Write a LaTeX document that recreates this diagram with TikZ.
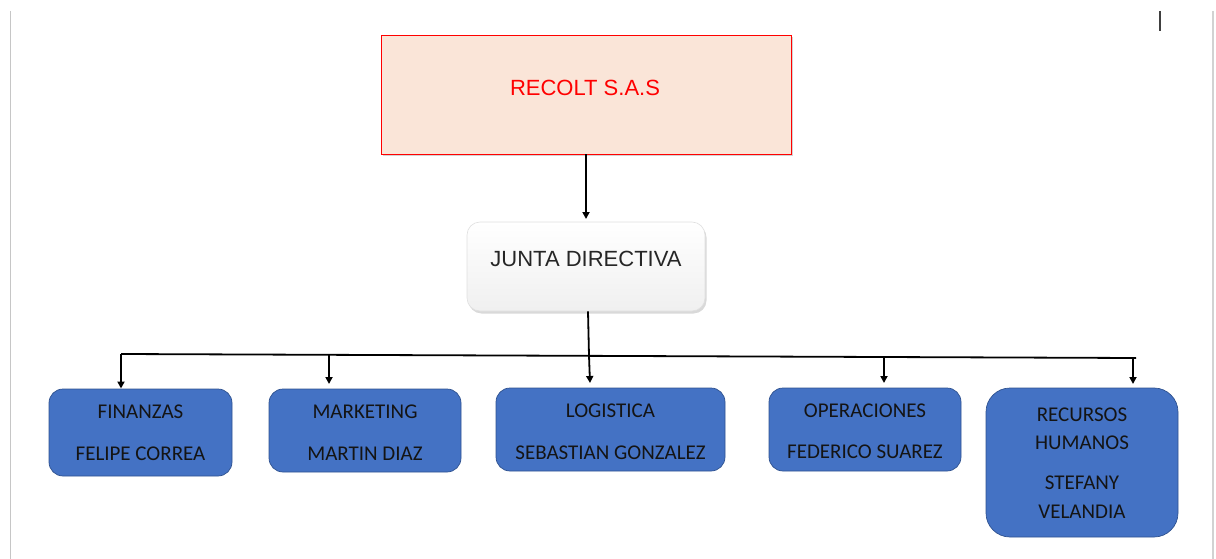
\documentclass[tikz,border=0pt]{standalone}
\usepackage{fontspec}
\setmainfont{Liberation Sans}
\newfontfamily\calib{Carlito}
\usetikzlibrary{arrows.meta,shadows}
\begin{document}
\begin{tikzpicture}[x=1pt,y=-1pt,
  conn/.style={line width=1.8pt,black},
  arr/.style={conn,-{Triangle[length=7pt,width=7pt]}},
  dept/.style={draw={rgb,255:red,47;green,82;blue,143},line width=0.7pt,fill={rgb,255:red,68;green,114;blue,196},rounded corners=14pt,inner sep=0pt},
  dtxt/.style={font=\calib\fontsize{21}{24}\selectfont,text=black!92,inner sep=0pt},
]
\useasboundingbox (0,0) rectangle (1216,559);
% page edges
\draw[gray!45,line width=1pt] (10.5,11) -- (10.5,559);
\draw[gray!35,line width=1.5pt] (1213,11) -- (1213,559);
\draw[black!75,line width=1.3pt] (1160,11) -- (1160,31);

% top box
\node[draw=red,line width=0.9pt,fill={rgb,255:red,250;green,229;blue,216},minimum width=410pt,minimum height=119pt,inner sep=0pt,
  drop shadow={shadow xshift=2pt,shadow yshift=-2pt,opacity=0.35}] (top) at (586,94.5) {};
\node[text=red,font=\fontsize{22}{26}\selectfont,inner sep=0pt] (topt) at (585,88) {RECOLT S.A.S};

% junta
\node[draw=gray!25,line width=0.6pt,rounded corners=13pt,top color=white,bottom color=gray!12,minimum width=238pt,minimum height=89pt,inner sep=0pt,
  drop shadow={shadow xshift=1.5pt,shadow yshift=-2.5pt,opacity=0.3}] (junta) at (586,266.5) {};
\node[text=black!85,font=\fontsize{22}{26}\selectfont,inner sep=0pt] (juntat) at (586,259) {JUNTA DIRECTIVA};

% departments
\node[dept,minimum width=183pt,minimum height=87pt] (fin) at (140.5,432.5) {};
\node[dept,minimum width=192pt,minimum height=83pt] (mkt) at (365,430.5) {};
\node[dept,minimum width=229pt,minimum height=83pt] (log) at (610.5,429.5) {};
\node[dept,minimum width=192pt,minimum height=83pt] (ope) at (865,429.5) {};
\node[dept,rounded corners=24pt,minimum width=192pt,minimum height=149pt] (rrhh) at (1082,462.5) {};

\node[dtxt] (fin1) at (140.5,412) {FINANZAS};
\node[dtxt] (fin2) at (140.5,454) {FELIPE CORREA};
\node[dtxt] (mkt1) at (365,412) {MARKETING};
\node[dtxt] (mkt2) at (365,454) {MARTIN DIAZ};
\node[dtxt] (log1) at (610.5,411) {LOGISTICA};
\node[dtxt] (log2) at (610.5,453) {SEBASTIAN GONZALEZ};
\node[dtxt] (ope1) at (865,411) {OPERACIONES};
\node[dtxt] (ope2) at (865,452) {FEDERICO SUAREZ};
\node[dtxt] (rr1) at (1082,415) {RECURSOS};
\node[dtxt] (rr2) at (1082,443) {HUMANOS};
\node[dtxt] (rr3) at (1082,483) {STEFANY};
\node[dtxt] (rr4) at (1082,512) {VELANDIA};

% connectors
\coordinate (b1) at (121,354);
\coordinate (b2) at (329,354.8);
\coordinate (b3) at (589,355.8);
\coordinate (b4) at (884,357);
\coordinate (b5) at (1136,358);
\draw[arr] (top.south -| 586,0) -- (586,219);
\draw[conn] (junta.south -| 588,0) -- (b3);
\draw[conn] (b1) -- (b5);
\draw[arr] (b1) -- (121,388.5);
\draw[arr] (b2) -- (329,384);
\draw[arr] (b3) -- (590,383);
\draw[arr] (b4) -- (884,383);
\draw[arr] (b5) -| (1133,384);
\end{tikzpicture}
\end{document}
